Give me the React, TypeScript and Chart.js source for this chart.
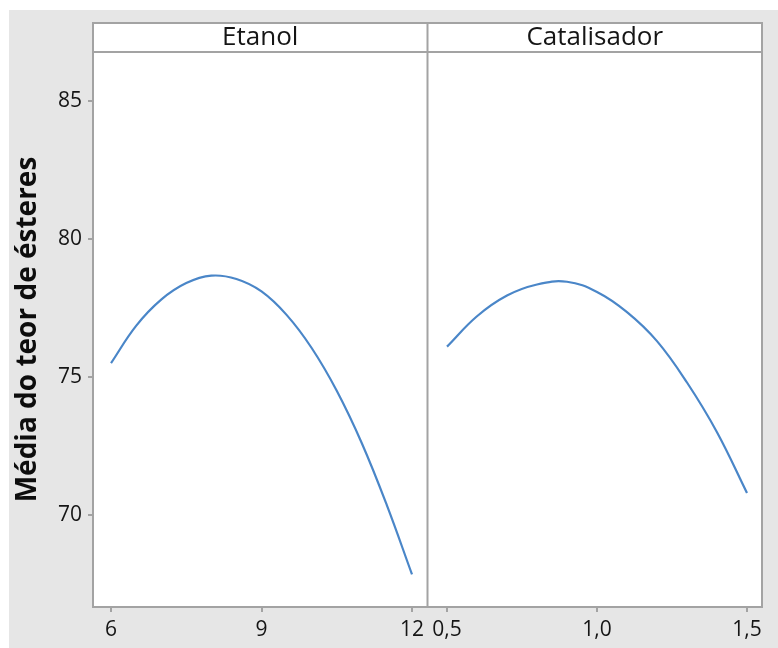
import React, { useEffect, useRef } from "react";
import { Chart, registerables } from "chart.js";

Chart.register(...registerables);

// Main effects for the ester content: ethanol ratio and catalyst load
const etanolX = [6.0, 6.5, 7.0, 7.5, 8.0, 8.5, 9.0, 9.5, 10.0, 10.5, 11.0, 11.5, 12.0];
const etanolY = [75.5, 76.85, 77.8, 78.4, 78.67, 78.55, 78.1, 77.25, 76.05, 74.5, 72.6, 70.35, 67.85];

const catalisadorX = [0.5, 0.6, 0.7, 0.8, 0.9, 1.0, 1.1, 1.2, 1.3, 1.4, 1.5];
const catalisadorY = [76.1, 77.2, 77.95, 78.35, 78.45, 78.08, 77.35, 76.3, 74.8, 73.0, 70.8];

const panelTitles = ["Etanol", "Catalisador"];
const yAxisTitle = "Média do teor de ésteres";

const yTicks = [70, 75, 80, 85];
const etanolTicks = [6, 9, 12];
const etanolTickLabels = ["6", "9", "12"];
const catalisadorTicks = [0.5, 1.0, 1.5];
const catalisadorTickLabels = ["0,5", "1,0", "1,5"];

const FONT = "'Open Sans', 'Noto Sans', sans-serif";
const TEXT = "#151515";
const FRAME = "#a3a3a3";
const BG = "#e6e6e6";
const LINE = "#4a86c8";

const fixedTicks = (values: number[]) => (axis: any) => {
  axis.ticks = values.map((v) => ({ value: v }));
};

const labelFor = (values: number[], labels: string[]) => (v: any) => {
  const i = values.findIndex((t) => Math.abs(t - Number(v)) < 1e-9);
  return i >= 0 ? labels[i] : "";
};

// Panel frames, header strips and backgrounds
const panelPlugin = {
  id: "panels",
  beforeDraw(chart: any) {
    const { ctx, chartArea: a, width, height } = chart;
    ctx.save();
    ctx.fillStyle = BG;
    ctx.fillRect(0, 0, width, height);
    ctx.fillStyle = "#ffffff";
    ctx.fillRect(a.left, a.top, a.right - a.left, a.bottom - a.top);
    ctx.fillRect(a.left, a.top - 29, a.right - a.left, 29);
    ctx.restore();
  },
  afterDraw(chart: any) {
    const { ctx, chartArea: a, scales } = chart;
    const divider = scales.x2.left;
    const headTop = a.top - 29;
    ctx.save();
    ctx.strokeStyle = FRAME;
    ctx.lineWidth = 2;
    ctx.strokeRect(a.left, headTop, a.right - a.left, a.bottom - headTop);
    ctx.beginPath();
    ctx.moveTo(a.left, a.top);
    ctx.lineTo(a.right, a.top);
    ctx.moveTo(divider, headTop);
    ctx.lineTo(divider, a.bottom);
    ctx.stroke();

    ctx.fillStyle = TEXT;
    ctx.font = `26px ${FONT}`;
    ctx.textAlign = "center";
    ctx.textBaseline = "middle";
    const centers = [(a.left + divider) / 2, (divider + a.right) / 2];
    panelTitles.forEach((t, i) => ctx.fillText(t, centers[i], headTop + 15));
    ctx.restore();
  },
};

export default function App() {
  const ref = useRef<HTMLCanvasElement>(null);

  useEffect(() => {
    if (!ref.current) return;
    const tickFont = { family: FONT, size: 21 };
    const xCommon = {
      type: "linear" as const,
      position: "bottom" as const,
      stack: "panels",
      stackWeight: 1,
      border: { display: false },
      grid: { drawOnChartArea: false, drawTicks: true, tickLength: 5, color: FRAME, lineWidth: 2 },
      afterFit: (s: any) => {
        s.height = 41;
      },
    };
    const chart = new Chart(ref.current, {
      type: "line",
      data: {
        datasets: [
          {
            label: panelTitles[0],
            xAxisID: "x1",
            data: etanolX.map((x, i) => ({ x, y: etanolY[i] })),
            borderColor: LINE,
            borderWidth: 2.2,
            pointRadius: 0,
            tension: 0.4,
            fill: false,
          },
          {
            label: panelTitles[1],
            xAxisID: "x2",
            data: catalisadorX.map((x, i) => ({ x, y: catalisadorY[i] })),
            borderColor: LINE,
            borderWidth: 2.2,
            pointRadius: 0,
            tension: 0.4,
            fill: false,
          },
        ],
      },
      options: {
        animation: false,
        responsive: false,
        layout: { padding: { left: 0, top: 42, right: 16, bottom: 0 } },
        plugins: { legend: { display: false }, tooltip: { enabled: false } },
        scales: {
          x1: {
            ...xCommon,
            min: 5.641,
            max: 12.309,
            afterBuildTicks: fixedTicks(etanolTicks),
            ticks: {
              font: tickFont,
              color: TEXT,
              padding: 5,
              maxRotation: 0,
              autoSkip: false,
              callback: labelFor(etanolTicks, etanolTickLabels),
            },
          },
          x2: {
            ...xCommon,
            min: 0.435,
            max: 1.55,
            afterBuildTicks: fixedTicks(catalisadorTicks),
            ticks: {
              font: tickFont,
              color: TEXT,
              padding: 5,
              maxRotation: 0,
              autoSkip: false,
              callback: labelFor(catalisadorTicks, catalisadorTickLabels),
            },
          },
          y: {
            type: "linear",
            position: "left",
            min: 66.67,
            max: 86.77,
            border: { display: false },
            grid: { drawOnChartArea: false, drawTicks: true, tickLength: 5, color: FRAME, lineWidth: 2 },
            afterBuildTicks: fixedTicks(yTicks),
            afterFit: (s: any) => {
              s.width = 84;
            },
            ticks: { font: tickFont, color: TEXT, padding: 6, autoSkip: false },
            title: {
              display: true,
              text: yAxisTitle,
              color: "#0d0d0d",
              font: { family: FONT, size: 28, weight: "bold" },
              padding: { top: 2, bottom: 0 },
            },
          },
        },
      },
      plugins: [panelPlugin],
    });
    return () => chart.destroy();
  }, []);

  return (
    <div style={{ position: "absolute", left: 9, top: 10, width: 769, height: 638 }}>
      <canvas ref={ref} width={769} height={638} style={{ display: "block", width: 769, height: 638 }} />
    </div>
  );
}
